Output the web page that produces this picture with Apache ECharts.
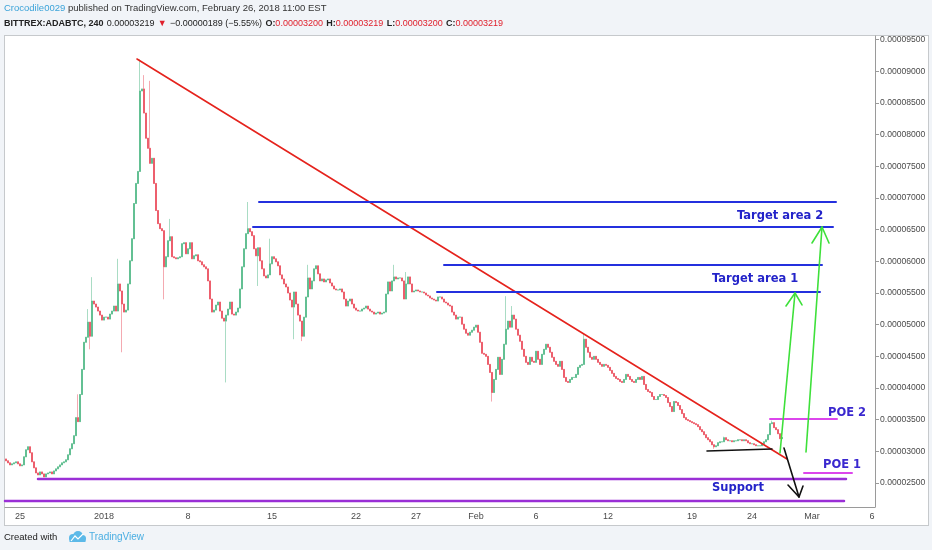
<!DOCTYPE html>
<html><head><meta charset="utf-8">
<script src="https://cdn.jsdelivr.net/npm/echarts@6/dist/echarts.min.js"></script>
<style>
html,body{margin:0;padding:0;background:#f1f4f8;}
#panel{position:absolute;left:4px;top:35px;width:925px;height:491px;background:#fff;border:1px solid #c6c9cc;box-sizing:border-box;}
#c{position:absolute;left:0;top:0;width:932px;height:550px;}
</style>
</head><body><div id="panel"></div><div id="c"></div>
<script>
// ---- data (prices in satoshi, 1 sat = 0.00000001 BTC), 240-minute candles ----
const SAT = 1e-8;
const START = Date.UTC(2017, 11, 23, 20); // first 4h candle
const STEP = 4 * 3600 * 1000;
const SLOTS = 435;                          // time slots shown on the axis (to ~Mar 6)
const FIRST_OPEN = 2880;
const closes = [
2850,2818,2786,2802,2818,2834,2802,2771,2786,2913,
3024,3072,2977,2834,2739,2659,2628,2675,2644,2596,
2644,2659,2675,2644,2691,2723,2755,2786,2818,2834,
2866,2945,3040,3120,3247,3532,3469,3897,4294,4722,
4802,5040,4818,5373,5326,5278,5215,5151,5072,5119,
5119,5088,5167,5215,5294,5215,5643,5532,5326,5199,
5230,5643,6008,6357,6913,7230,7420,8690,8722,8341,
7944,7785,7547,7627,7230,6802,6595,6516,6484,5913,
6072,6325,6389,6072,6056,6040,6056,6072,6278,6294,
6119,6198,6294,6040,6087,6103,6008,5992,5945,5913,
5881,5691,5405,5199,5230,5310,5357,5215,5103,5056,
5151,5246,5357,5167,5151,5199,5262,5564,5913,6198,
6437,6516,6468,6405,6198,6087,6214,6008,5881,5770,
5738,5786,5960,6072,6040,5992,5929,5786,5722,5643,
5595,5500,5389,5278,5516,5326,5151,5056,4818,5119,
5437,5738,5564,5691,5881,5929,5802,5691,5722,5675,
5707,5722,5659,5611,5564,5548,5548,5564,5516,5405,
5294,5373,5405,5326,5262,5230,5215,5215,5246,5262,
5294,5246,5215,5199,5167,5183,5199,5167,5183,5199,
5484,5675,5532,5691,5754,5722,5738,5738,5691,5405,
5643,5754,5643,5516,5532,5548,5532,5516,5516,5500,
5468,5453,5421,5405,5389,5373,5437,5437,5405,5357,
5342,5310,5294,5199,5151,5088,5119,5119,5008,4929,
4865,4834,4881,4913,4961,4992,4881,4722,4548,4532,
4500,4373,4246,3929,4135,4294,4485,4215,4453,4691,
4929,5056,4961,5151,5088,4929,4834,4738,4611,4500,
4405,4373,4485,4421,4405,4580,4453,4373,4532,4611,
4691,4643,4564,4485,4421,4373,4342,4421,4294,4167,
4104,4088,4135,4167,4167,4215,4326,4358,4373,4770,
4643,4564,4485,4453,4500,4453,4405,4373,4342,4373,
4358,4326,4278,4231,4183,4151,4135,4104,4088,4135,
4215,4183,4135,4104,4088,4135,4167,4135,4183,4056,
3977,3945,3929,3866,3818,3818,3866,3897,3897,3881,
3850,3770,3707,3628,3786,3770,3723,3659,3596,3532,
3501,3485,3469,3453,3437,3421,3390,3342,3310,3263,
3215,3183,3151,3104,3072,3088,3136,3151,3151,3215,
3183,3167,3167,3151,3167,3167,3183,3183,3167,3183,
3167,3136,3120,3120,3104,3088,3088,3088,3120,3151,
3183,3263,3437,3453,3374,3342,3278,3200,3219
];
// notable wicks: [candle index, price]
const wickHighs = [[36,3900],[41,5246],[43,5750],[56,6040],[67,9190],[69,8940],[72,8850],[82,6670],
  [121,6937],[132,6357],[151,5945],[194,5945],[200,5831],[250,5450],[253,5294],[289,4850],[359,3231],[383,3485]];
const wickLows = [[42,4611],[58,4564],[79,5400],[110,4088],[126,5611],[144,4770],[148,4740],[243,3786],[354,3040]];

// axis labels
const priceTicks = [2500,3000,3500,4000,4500,5000,5500,6000,6500,7000,7500,8000,8500,9000,9500];
const timeTickDates = ['2017-12-25','2018-01-01','2018-01-08','2018-01-15','2018-01-22','2018-01-27',
  '2018-02-01','2018-02-06','2018-02-12','2018-02-19','2018-02-24','2018-03-01','2018-03-06'];
const timeTickLabels = ['25','2018','8','15','22','27','Feb','6','12','19','24','Mar','6'];

// drawings (x = candle slot index, y = price in sat)
const trendLine   = [[65.5,9195],[390.5,2879]];
const target2Top  = [[126.5,6937],[415,6937]];
const target2Bot  = [[123.5,6542],[413.5,6542]];
const target1Top  = [[219,5942],[408,5942]];
const target1Bot  = [[215.5,5516],[407,5516]];
const poe2Line    = [[382,3510],[415.5,3510]];
const poe1Line    = [[399,2658],[423,2658]];
const supportTop  = [[16,2563],[420,2563]];
const supportBot  = [[-0.5,2216],[419,2216]];
const baseLine    = [[350.5,3005],[383,3037]];
const downArrow   = [[389,3053],[396.5,2279]];
const downHead    = [[391,2468],[396.5,2279],[398.5,2452]];
const upArrow1    = [[387,2974],[394.5,5500]];
const upHead1     = [[390,5295],[394.5,5500],[398,5311]];
const upArrow2    = [[400,2989],[408,6542]];
const upHead2     = [[403,6290],[408,6542],[411.5,6290]];

// ---- build ----
const categories = [];
for (let i = 0; i < SLOTS; i++) categories.push(START + i * STEP);
const tickMap = {};
timeTickDates.forEach((d, k) => {
  const idx = Math.round((Date.parse(d + 'T00:00:00Z') - START) / STEP);
  tickMap[idx] = timeTickLabels[k];
});
const hiMap = new Map(wickHighs), loMap = new Map(wickLows);
const fullData = [], bodyData = [];
closes.forEach((c, i) => {
  const o = i === 0 ? FIRST_OPEN : closes[i - 1];
  let hi = Math.max(o, c), lo = Math.min(o, c);
  bodyData.push([o, c, lo, hi]);
  if (hiMap.has(i)) hi = Math.max(hi, hiMap.get(i));
  if (loMap.has(i)) lo = Math.min(lo, loMap.get(i));
  fullData.push([o, c, lo, hi]);
});

const UP = '#53b987', DOWN = '#eb4d5c';
const AXC = '#9a9a9a';
const LBL = '#4a4a4a';
const SANS = "'Liberation Sans',Arial,sans-serif";
const BOLD = "'DejaVu Sans',Verdana,sans-serif";

function seg(data, color, width, z) {
  return { type: 'line', xAxisIndex: 1, yAxisIndex: 0, data: data, symbol: 'none', silent: true,
    animation: false, z: z || 5, lineStyle: { color: color, width: width, cap: 'round', join: 'round' } };
}
function txt(x, y, s, color, size) {
  return { type: 'text', x: x, y: y, z: 20, style: { text: s, fill: color, font: 'bold ' + size + 'px ' + BOLD,
    textVerticalAlign: 'middle' } };
}

const option = {
  animation: false,
  grid: { left: 5, top: 36, width: 870, height: 471 },
  xAxis: [
    { type: 'category', data: categories, boundaryGap: true,
      axisLine: { onZero: false, lineStyle: { color: AXC } },
      axisTick: { alignWithLabel: true, length: 4, interval: (i) => tickMap[i] !== undefined, lineStyle: { color: AXC } },
      axisLabel: { interval: (i) => tickMap[i] !== undefined, formatter: (v, i) => tickMap[i] || '',
        color: LBL, fontSize: 9, margin: 5, fontFamily: SANS },
      splitLine: { show: false } },
    { type: 'value', min: -0.5, max: SLOTS - 0.5, show: false }
  ],
  yAxis: {
    type: 'value', position: 'right', min: 2121, max: 9558, scale: true,
    axisLine: { show: true, onZero: false, lineStyle: { color: AXC } },
    axisTick: { show: true, length: 4, customValues: priceTicks, lineStyle: { color: AXC } },
    axisLabel: { customValues: priceTicks, formatter: (v) => (v * SAT).toFixed(8), color: LBL,
      fontSize: 8.6, margin: 5, fontFamily: SANS },
    splitLine: { show: false }
  },
  series: [
    { type: 'candlestick', data: fullData, barWidth: 1.5, silent: true, z: 2,
      itemStyle: { color: '#a9dcc4', color0: '#f4aab1', borderColor: '#a9dcc4', borderColor0: '#f4aab1', borderWidth: 1 } },
    { type: 'candlestick', data: bodyData, barWidth: 1.5, silent: true, z: 3,
      itemStyle: { color: UP, color0: DOWN, borderColor: UP, borderColor0: DOWN, borderWidth: 0.6 } },
    seg(trendLine, '#e5231d', 1.6),
    seg(target2Top, '#2430de', 2), seg(target2Bot, '#2430de', 2),
    seg(target1Top, '#2430de', 2), seg(target1Bot, '#2430de', 2),
    seg(poe2Line, '#dc46ec', 2), seg(poe1Line, '#dc46ec', 2),
    seg(supportTop, '#9a2fd6', 2.5), seg(supportBot, '#9a2fd6', 2.5),
    seg(baseLine, '#111111', 1.6), seg(downArrow, '#111111', 1.6), seg(downHead, '#111111', 1.6),
    seg(upArrow1, '#3ee03a', 1.6), seg(upHead1, '#3ee03a', 1.6),
    seg(upArrow2, '#3ee03a', 1.6), seg(upHead2, '#3ee03a', 1.6)
  ],
  graphic: [
    { type: 'text', x: 4, y: 8, style: { textVerticalAlign: 'middle',
      text: '{a|Crocodile0029}{b| published on TradingView.com, February 26, 2018 11:00 EST}',
      rich: { a: { fill: '#3ba3d9', fontSize: 9.5, fontFamily: SANS }, b: { fill: '#333', fontSize: 9.5, fontFamily: SANS } } } },
    { type: 'text', x: 4, y: 24, style: { textVerticalAlign: 'middle',
      text: '{k|BITTREX:ADABTC, 240} {n|0.00003219} {r|\u25BC} {n|\u22120.00000189 (\u22125.55%)} {k|O:}{r|0.00003200} {k|H:}{r|0.00003219} {k|L:}{r|0.00003200} {k|C:}{r|0.00003219}',
      rich: { k: { fill: '#222', fontSize: 9, fontWeight: 'bold', fontFamily: SANS },
              n: { fill: '#222', fontSize: 9, fontFamily: SANS },
              r: { fill: '#e0202c', fontSize: 9, fontFamily: SANS } } } },
    txt(737, 216, 'Target area 2', '#2323c9', 11.5),
    txt(712, 279, 'Target area 1', '#2323c9', 11.5),
    txt(828, 413, 'POE 2', '#3a28cf', 11.5),
    txt(823, 465, 'POE 1', '#3a28cf', 11.5),
    txt(712, 488, 'Support', '#2323c9', 11.5),
    { type: 'text', x: 4, y: 537, style: { text: 'Created with', fill: '#222', fontSize: 9.5, fontFamily: SANS, textVerticalAlign: 'middle' } },
    { type: 'group', x: 67, y: 530, children: [
      { type: 'circle', shape: { cx: 6, cy: 8, r: 4 }, style: { fill: '#5cb9e8' } },
      { type: 'circle', shape: { cx: 11, cy: 6, r: 5 }, style: { fill: '#5cb9e8' } },
      { type: 'circle', shape: { cx: 15.5, cy: 8.5, r: 3.5 }, style: { fill: '#5cb9e8' } },
      { type: 'rect', shape: { x: 2.5, y: 8, width: 16, height: 4 }, style: { fill: '#5cb9e8' } },
      { type: 'polyline', shape: { points: [[4, 11], [8, 6], [11, 9], [16, 4]] }, style: { stroke: '#fff', lineWidth: 1.2, fill: null } }
    ] },
    { type: 'text', x: 89, y: 537, style: { text: 'TradingView', fill: '#4aaee2', fontSize: 10, fontFamily: SANS, textVerticalAlign: 'middle' } }
  ]
};
const chart = echarts.init(document.getElementById('c'));
chart.setOption(option);
</script></body></html>
